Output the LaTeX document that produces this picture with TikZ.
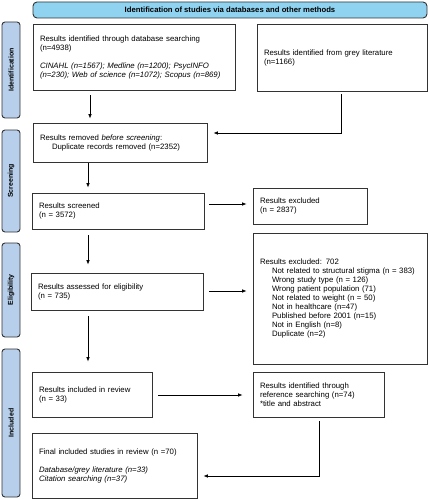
\documentclass[tikz,border=0pt]{standalone}
\usepackage{fontspec}
\setmainfont{Liberation Sans}
\usetikzlibrary{arrows.meta}
\definecolor{bannerblue}{HTML}{8FD3F0}
\definecolor{barblue}{HTML}{B7CFEA}
\definecolor{edge}{HTML}{333333}
\begin{document}
\begin{tikzpicture}[x=1pt,y=-1pt,
  txt/.style={font=\fontsize{7.8}{9}\selectfont},
  box/.style={txt,draw=edge,line width=0.8pt,rectangle,align=left,inner xsep=7pt,inner ysep=0pt,anchor=center},
  phase/.style={draw=edge,line width=0.9pt,fill=barblue,rounded corners=3pt,rotate=90,minimum height=18pt,inner sep=0pt,font=\fontsize{7}{8}\selectfont\bfseries,anchor=center},
  banner/.style={draw=edge,line width=0.9pt,fill=bannerblue,rounded corners=4pt,minimum width=394pt,minimum height=16pt,inner sep=0pt,font=\fontsize{7.7}{9}\selectfont\bfseries,anchor=center},
  arr/.style={-{Latex[length=4.5pt,width=3.6pt]},line width=0.8pt,draw=black}
]
\useasboundingbox (0,0) rectangle (428,500);

\node[banner] (title) at (230,10) {Identification of studies via databases and other methods};

\node[phase,minimum width=96pt] (pid) at (11,70) {Identification};
\node[phase,minimum width=102pt] (psc) at (11,181) {Screening};
\node[phase,minimum width=94pt] (pel) at (11,290) {Eligibility};
\node[phase,minimum width=148pt] (pin) at (11,423) {Included};

\node[box,text width=188pt,minimum height=66pt] (db) at (134,57)
 {Results identified through database searching\\(n=4938)\\[9pt]
  \textit{CINAHL (n=1567); Medline (n=1200); PsycINFO}\\
  \textit{(n=230); Web of science (n=1072); Scopus (n=869)}};

\node[box,text width=156pt,minimum height=67pt] (grey) at (342,57.5)
 {Results identified from grey literature\\(n=1166)};

\node[box,text width=160pt,minimum height=39pt] (rem) at (120,142.5)
 {Results removed \textit{before screening}:\\\hspace*{12pt}Duplicate records removed (n=2352)};

\node[box,text width=158pt,minimum height=36pt] (scr) at (118,211)
 {Results screened\\(n = 3572)};

\node[box,text width=100pt,minimum height=36pt] (exc) at (310,206)
 {Results excluded\\(n = 2837)};

\node[box,text width=160pt,minimum height=131pt] (exc2) at (340,298.5)
 {Results excluded: 702\\
  \hspace*{12pt}Not related to structural stigma (n = 383)\\
  \hspace*{12pt}Wrong study type (n = 126)\\
  \hspace*{12pt}Wrong patient population (71)\\
  \hspace*{12pt}Not related to weight (n = 50)\\
  \hspace*{12pt}Not in healthcare (n=47)\\
  \hspace*{12pt}Published before 2001 (n=15)\\
  \hspace*{12pt}Not in English (n=8)\\
  \hspace*{12pt}Duplicate (n=2)};

\node[box,text width=158pt,minimum height=37pt] (ass) at (117,291.5)
 {Results assessed for eligibility\\(n = 735)};

\node[box,text width=106pt,minimum height=45pt] (inc) at (92,394.5)
 {Results included in review\\(n = 33)};

\node[box,text width=117pt,minimum height=45pt] (ref) at (318.5,394.5)
 {Results identified through\\reference searching (n=74)\\{*}title and abstract};

\node[box,text width=151pt,minimum height=65pt] (fin) at (114.5,465.5)
 {Final included studies in review (n =70)\\[9pt]
  \textit{Database/grey literature (n=33)}\\
  \textit{Citation searching (n=37)}};

\coordinate (xa) at (90,0);
\coordinate (xb) at (88,0);
\coordinate (yg) at (0,133);
\coordinate (yr) at (0,476);
\coordinate (ys) at (0,204);
\coordinate (ye) at (0,291);
\coordinate (yi) at (0,395);
\coordinate (xg) at (341,0);
\coordinate (xr) at (319,0);

\draw[arr,shorten <=5pt,shorten >=4pt] (db.south -| xa) -- (rem.north -| xa);
\draw[arr,shorten <=3pt,shorten >=6pt] (grey.south -| xg) |- (rem.east |- yg);
\draw[arr,shorten <=1pt,shorten >=5pt] (rem.south -| xb) -- (scr.north -| xb);
\draw[arr,shorten <=5pt,shorten >=6pt] (scr.east |- ys) -- (exc.west |- ys);
\draw[arr,shorten <=6pt,shorten >=8pt] (scr.south -| xb) -- (ass.north -| xb);
\draw[arr,shorten <=6pt,shorten >=6pt] (ass.east |- ye) -- (exc2.west |- ye);
\draw[arr,shorten <=6pt,shorten >=10pt] (ass.south -| xb) -- (inc.north -| xb);
\draw[arr,shorten <=6pt,shorten >=10pt] (inc.east |- yi) -- (ref.west |- yi);
\draw[arr,shorten <=4pt,shorten >=6pt] (ref.south -| xr) |- (fin.east |- yr);
\end{tikzpicture}
\end{document}
